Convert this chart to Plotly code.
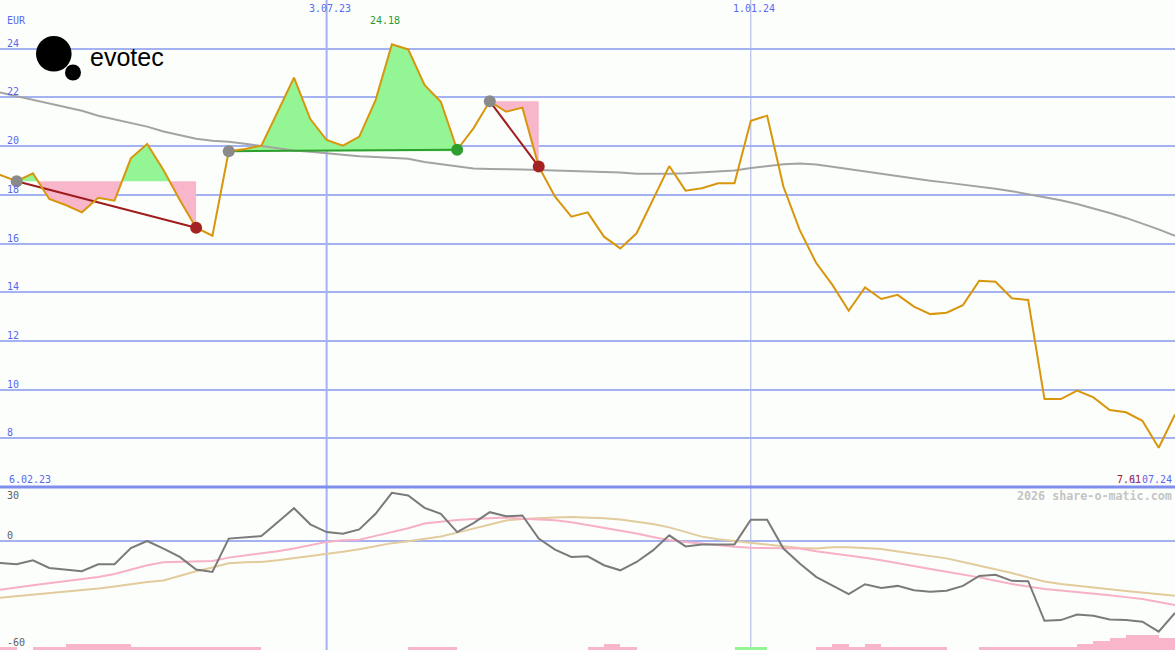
import pandas as pd
import plotly.graph_objects as go

# ---------------- data ----------------
dates = pd.date_range("2023-02-06", periods=74, freq="7D")

price = [18.90, 18.81, 18.56, 18.88, 17.83, 17.58, 17.28, 17.88, 17.76, 19.50,
         20.09, 19.02, 17.79, 16.65, 16.32, 19.79, 19.88, 20.02, 21.41, 22.81,
         21.11, 20.25, 20.02, 20.39, 21.89, 24.18, 23.97, 22.51, 21.82, 19.85,
         20.73, 21.84, 21.41, 21.58, 19.16, 17.92, 17.10, 17.28, 16.28, 15.80,
         16.42, 17.79, 19.18, 18.17, 18.27, 18.47, 18.47, 21.04, 21.25, 18.33,
         16.55, 15.21, 14.30, 13.24, 14.20, 13.72, 13.89, 13.41, 13.10, 13.16,
         13.47, 14.47, 14.43, 13.75, 13.68, 9.61, 9.61, 9.96, 9.68, 9.16,
         9.07, 8.72, 7.61, 8.98]

price_ma = [22.35, 22.20, 22.05, 21.90, 21.75, 21.60, 21.45, 21.25, 21.10, 20.95,
            20.80, 20.60, 20.45, 20.30, 20.22, 20.18, 20.10, 20.00, 19.90, 19.82,
            19.77, 19.70, 19.65, 19.58, 19.55, 19.53, 19.48, 19.35, 19.25, 19.15,
            19.08, 19.06, 19.06, 19.04, 19.02, 19.00, 18.99, 18.98, 18.96, 18.92,
            18.86, 18.85, 18.86, 18.88, 18.92, 18.96, 19.00, 19.10, 19.18, 19.25,
            19.29, 19.24, 19.15, 19.05, 18.96, 18.85, 18.76, 18.67, 18.58, 18.50,
            18.42, 18.33, 18.25, 18.15, 18.03, 17.92, 17.78, 17.62, 17.45, 17.25,
            17.05, 16.82, 16.58, 16.32]

momentum = [-12.0, -11.9, -12.7, -10.5, -14.7, -15.4, -16.5, -12.7, -12.7, -3.7,
            0.2, -4.0, -8.6, -15.6, -16.9, 1.5, 2.0, 2.9, 10.6, 18.3,
            9.4, 5.1, 4.2, 6.6, 15.2, 26.8, 25.3, 18.5, 15.2, 5.1,
            10.1, 16.1, 13.8, 14.3, 1.5, -4.6, -8.6, -8.3, -13.2, -16.0,
            -11.4, -5.0, 3.3, -2.8, -1.8, -1.7, -1.7, 11.9, 11.9, -4.0,
            -12.3, -19.6, -24.2, -29.2, -23.7, -25.7, -24.6, -27.0, -27.9, -27.3,
            -24.6, -19.1, -18.5, -21.8, -22.0, -43.9, -43.5, -40.4, -41.1, -43.1,
            -43.5, -44.4, -49.9, -39.5]

momentum_fast = [-28.0, -26.6, -25.5, -24.3, -23.2, -22.0, -20.8, -19.7, -18.0, -15.5,
                 -13.2, -11.6, -11.4, -11.4, -10.8, -9.0, -7.9, -6.8, -5.5, -4.0,
                 -2.3, -0.3, 0.6, 0.9, 3.0, 5.0, 7.2, 9.8, 11.0, 11.8,
                 12.4, 13.0, 13.2, 12.5, 12.0, 11.7, 10.5, 9.0, 7.2, 6.0,
                 4.3, 2.4, 0.6, -0.4, -1.4, -2.3, -3.0, -3.5, -3.7, -3.5,
                 -4.0, -5.5, -6.6, -7.7, -9.1, -10.5, -12.2, -13.8, -15.3, -16.8,
                 -18.2, -19.9, -21.8, -23.6, -24.9, -26.3, -27.2, -28.0, -28.9, -29.8,
                 -30.8, -31.9, -33.5, -35.2]

momentum_slow = [-32.0, -31.2, -30.4, -29.5, -28.6, -27.8, -26.9, -26.1, -25.0, -23.7,
                 -22.5, -21.6, -19.0, -16.5, -14.5, -12.1, -11.5, -11.4, -10.5, -9.4,
                 -8.3, -7.2, -5.8, -4.4, -2.8, -1.0, 0.0, 1.3, 2.7, 4.8,
                 7.0, 9.3, 11.5, 12.4, 13.0, 13.2, 13.4, 13.2, 12.7, 12.0,
                 11.0, 9.6, 7.7, 5.0, 2.6, 1.2, 0.2, -0.9, -1.7, -2.6,
                 -3.7, -4.0, -3.3, -3.2, -3.7, -4.2, -5.6, -6.9, -8.2, -9.4,
                 -11.4, -13.4, -15.4, -17.5, -19.9, -22.2, -23.6, -24.7, -25.6, -26.5,
                 -27.4, -28.2, -29.2, -30.1]

# signed signal bars: negative = pink, positive = green
signal_bars = [0, -1, 0, -1, -1, -2, -2, -2, -2, -1,
               -1, -1, -1, -1, -1, -1, -1, 0, 0, 0,
               0, 0, 0, 0, 0, 0, -1, -1, -1, 0,
               0, 0, 0, 0, 0, 0, 0, -1, -2, -1,
               0, 0, 0, 0, 0, 0, 1, 1, 0, 0,
               0, -1, -2, -1, -2, -1, -1, -1, -1, 0,
               0, -1, -1, -1, -1, -1, -1, -2, -3, -4,
               -5, -5, -4, 0]

trade_entries = [2, 15, 31]
trade_exits = [13, 29, 34]

price_ticks = [8, 10, 12, 14, 16, 18, 20, 22, 24]
osc_labels = [30, 0, -60]
date_ticks = ["2023-07-03", "2024-01-01"]
date_tick_labels = ["3.07.23", "1.01.24"]

# ---------------- styling ----------------
BG = "#FCFEFC"
GRID = "#A4B2F1"
LABEL_BLUE = "#5A68F0"
PRICE_COL = "#D8960C"
GREEN_FILL = "#93F593"
PINK_FILL = "#F8B6CA"
MONO = "DejaVu Sans Mono"
W, H = 1175, 650
SPLIT = 163 / H

fig = go.Figure()


def fmt_date(d):
    return f"{d.day}.{d.month:02d}.{d.year % 100:02d}"


# trade fills
for e, x in zip(trade_entries, trade_exits):
    level = price[e]
    ts, ps = [], []
    for i in range(e, x + 1):
        if i > e:
            p0, p1 = price[i - 1], price[i]
            if (p0 - level) * (p1 - level) < 0:
                f = (level - p0) / (p1 - p0)
                ts.append(dates[i - 1] + (dates[i] - dates[i - 1]) * f)
                ps.append(level)
        ts.append(dates[i])
        ps.append(price[i])
    upper = [max(p, level) for p in ps]
    lower = [min(p, level) for p in ps]
    for vals, col in ((upper, GREEN_FILL), (lower, PINK_FILL)):
        fig.add_trace(go.Scatter(
            x=ts + ts[::-1], y=vals + [level] * len(ts), fill="toself",
            fillcolor=col, mode="lines", line=dict(width=0),
            hoverinfo="skip", showlegend=False))

# price moving average
fig.add_trace(go.Scatter(x=dates, y=price_ma, mode="lines",
                         line=dict(color="#A3A3A3", width=2), showlegend=False))

# trade connecting lines
for e, x in zip(trade_entries, trade_exits):
    col = "#2E9E2E" if price[x] >= price[e] else "#A01C1C"
    fig.add_trace(go.Scatter(x=[dates[e], dates[x]], y=[price[e], price[x]],
                             mode="lines", line=dict(color=col, width=2),
                             showlegend=False))

# price line
fig.add_trace(go.Scatter(x=dates, y=price, mode="lines",
                         line=dict(color=PRICE_COL, width=2), showlegend=False))

# trade markers
fig.add_trace(go.Scatter(x=[dates[e] for e in trade_entries],
                         y=[price[e] for e in trade_entries], mode="markers",
                         marker=dict(color="#8A8A8A", size=12), showlegend=False))
fig.add_trace(go.Scatter(
    x=[dates[x] for x in trade_exits], y=[price[x] for x in trade_exits],
    mode="markers",
    marker=dict(color=["#2E9E2E" if price[x] >= price[e] else "#A52222"
                       for e, x in zip(trade_entries, trade_exits)], size=12),
    showlegend=False))

# oscillator panel
fig.add_trace(go.Bar(
    x=dates, y=[abs(v) for v in signal_bars], yaxis="y3",
    offset=0, width=7 * 24 * 3600 * 1000,
    marker=dict(color=["#95F595" if v > 0 else "#F9B6CA" for v in signal_bars],
                line=dict(width=0)),
    showlegend=False))
fig.add_trace(go.Scatter(x=dates, y=momentum_slow, yaxis="y2", mode="lines",
                         line=dict(color="#E2CB9C", width=2), showlegend=False))
fig.add_trace(go.Scatter(x=dates, y=momentum_fast, yaxis="y2", mode="lines",
                         line=dict(color="#F7B0C6", width=2), showlegend=False))
fig.add_trace(go.Scatter(x=dates, y=momentum, yaxis="y2", mode="lines",
                         line=dict(color="#7A7A7A", width=2), showlegend=False))

# ---------------- shapes ----------------
shapes = []
for d, w, c in zip(date_ticks, [2, 1], ["#A4B2F1", "#A8B0E4"]):
    shapes.append(dict(type="line", xref="x", yref="paper", x0=d, x1=d, y0=0, y1=1,
                       line=dict(color=c, width=w), layer="between"))
shapes.append(dict(type="line", xref="paper", yref="paper", x0=0, x1=1,
                   y0=SPLIT, y1=SPLIT, line=dict(color="#7E8EEE", width=3),
                   layer="above"))
# logo
shapes.append(dict(type="rect", xref="paper", yref="paper",
                   x0=35 / W, x1=163 / W, y0=1 - 84 / H, y1=1 - 28 / H,
                   fillcolor=BG, line=dict(width=0), layer="between"))
shapes.append(dict(type="circle", xref="paper", yref="paper",
                   x0=36 / W, x1=71.6 / W, y0=1 - 71.6 / H, y1=1 - 36 / H,
                   fillcolor="#000000", line=dict(width=0), layer="above"))
shapes.append(dict(type="circle", xref="paper", yref="paper",
                   x0=65 / W, x1=81 / W, y0=1 - 80.6 / H, y1=1 - 64.4 / H,
                   fillcolor="#000000", line=dict(width=0), layer="above"))

# ---------------- annotations ----------------
ann = []
font_blue = dict(family=MONO, size=10, color=LABEL_BLUE)
for v in price_ticks:
    ann.append(dict(x=5 / W, xref="paper", y=v, yref="y", text=str(v),
                    xanchor="left", yanchor="middle", yshift=5.5,
                    showarrow=False, font=font_blue))
ann.append(dict(x=5 / W, xref="paper", y=1 - 21 / H, yref="paper", text="EUR",
                xanchor="left", yanchor="middle", showarrow=False, font=font_blue))
for v, sh in zip(osc_labels, [-8.5, 6, 8]):
    ann.append(dict(x=5 / W, xref="paper", y=v, yref="y2", text=str(v),
                    xanchor="left", yanchor="middle", yshift=sh, showarrow=False,
                    font=dict(family=MONO, size=10, color="#606060")))
for d, lab in zip(date_ticks, date_tick_labels):
    ann.append(dict(x=d, xref="x", y=1 - 8 / H, yref="paper", text=lab,
                    xanchor="center", yanchor="middle", xshift=3,
                    showarrow=False, font=font_blue))
ann.append(dict(x=7 / W, xref="paper", y=1 - 479 / H, yref="paper",
                text=fmt_date(dates[0]), xanchor="left", yanchor="middle",
                showarrow=False, font=font_blue))
imin = price.index(min(price))
imax = price.index(max(price))
ann.append(dict(x=1115 / W, xref="paper", y=1 - 479 / H, yref="paper",
                text=f"{price[imin]:.2f}", xanchor="left", yanchor="middle",
                showarrow=False, font=dict(family=MONO, size=10, color="#9E1A1A")))
ann.append(dict(x=1174 / W, xref="paper", y=1 - 479 / H, yref="paper",
                text=fmt_date(dates[-1]), xanchor="right", yanchor="middle",
                showarrow=False, font=font_blue))
ann.append(dict(x=dates[imax], xref="x", y=1 - 21 / H, yref="paper",
                text=f"{price[imax]:.2f}", xanchor="center", yanchor="middle",
                xshift=-7, showarrow=False,
                font=dict(family=MONO, size=10, color="#2A9A2A")))
ann.append(dict(x=1174 / W, xref="paper", y=1 - 496 / H, yref="paper",
                text="<b>2026 share-o-matic.com</b>", xanchor="right",
                yanchor="middle", showarrow=False,
                font=dict(family=MONO, size=11.7, color="#C4C4C4")))
ann.append(dict(x=88 / W, xref="paper", y=1 - 57 / H, yref="paper",
                text="evotec", xanchor="left", yanchor="middle", showarrow=False,
                font=dict(family="Liberation Sans", size=25, color="#000000")))

axis_common = dict(showline=False, zeroline=False, ticks="", showticklabels=False,
                   gridcolor=GRID, gridwidth=2)
fig.update_layout(
    width=W, height=H, margin=dict(l=0, r=0, t=0, b=0),
    paper_bgcolor=BG, plot_bgcolor=BG, showlegend=False, bargap=0,
    hovermode=False,
    xaxis=dict(type="date", range=[dates[0] + pd.Timedelta(hours=164.6), dates[-1]],
               visible=False, fixedrange=True),
    yaxis=dict(domain=[SPLIT, 1], range=[6, 26], tickvals=price_ticks,
               fixedrange=True, **axis_common),
    yaxis2=dict(domain=[0, SPLIT], range=[-60, 30], tickvals=[0], anchor="x",
                fixedrange=True, **axis_common),
    yaxis3=dict(overlaying="y2", range=[0, 163 / 3], visible=False, anchor="x",
                fixedrange=True),
    shapes=shapes, annotations=ann,
)

fig.write_html(
    "out.html",
    config={"displayModeBar": False, "staticPlot": True},
    post_script="document.body.style.margin='0';document.body.style.padding='0';"
                "document.body.style.overflow='hidden';",
)
